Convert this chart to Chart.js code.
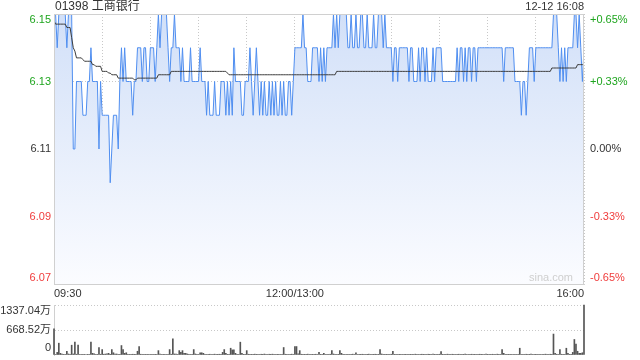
<!DOCTYPE html>
<html>
<head>
<meta charset="utf-8">
<script src="https://cdn.jsdelivr.net/npm/chart.js"></script>
<style>
  html, body { margin: 0; padding: 0; background: #fff; }
  #wrap { position: relative; width: 640px; height: 360px; overflow: hidden; }
  #price { position: absolute; left: 0; top: 0; }
  #vol { position: absolute; left: 0; top: 300px; }
</style>
</head>
<body>
<div id="wrap">
  <canvas id="price" width="640" height="300"></canvas>
  <canvas id="vol" width="640" height="60"></canvas>
</div>
<script>
// 01398 工商银行, 12-12 intraday, one point per minute (09:30 .. 16:00, lunch removed)
var stockTitle = '01398 工商银行';
var stampText = '12-12 16:08';
var prevClose = 6.11;

var timeLabels = { 0: '09:30', 150: '12:00/13:00', 330: '16:00' };
var priceTicks = [6.07, 6.09, 6.11, 6.13, 6.15];
var priceTickLabels = ['6.07', '6.09', '6.11', '6.13', '6.15'];
var pctTickLabels = ['-0.65%', '-0.33%', '0.00%', '+0.33%', '+0.65%'];
var volTicks = [0, 668.52, 1337.04];
var volTickLabels = ['0', '668.52万', '1337.04万'];

var lastPrice = [
  6.15,6.15,6.14,6.15,6.15,6.15,6.15,6.15,6.14,6.15,
  6.15,6.15,6.11,6.11,6.13,6.13,6.13,6.13,6.12,6.12,
  6.12,6.13,6.13,6.14,6.13,6.13,6.13,6.13,6.11,6.13,
  6.12,6.12,6.12,6.12,6.12,6.10,6.11,6.12,6.12,6.12,
  6.11,6.13,6.14,6.13,6.14,6.13,6.13,6.13,6.13,6.12,
  6.13,6.13,6.14,6.14,6.14,6.13,6.14,6.14,6.13,6.13,
  6.14,6.14,6.14,6.13,6.14,6.15,6.14,6.15,6.15,6.15,
  6.15,6.14,6.13,6.14,6.14,6.15,6.14,6.14,6.14,6.13,
  6.14,6.13,6.13,6.13,6.13,6.14,6.13,6.13,6.13,6.13,
  6.13,6.14,6.13,6.13,6.13,6.12,6.13,6.12,6.12,6.12,
  6.13,6.12,6.12,6.12,6.13,6.13,6.13,6.12,6.13,6.12,
  6.13,6.12,6.14,6.13,6.13,6.13,6.13,6.12,6.12,6.13,
  6.13,6.13,6.14,6.13,6.12,6.13,6.14,6.13,6.12,6.13,
  6.12,6.13,6.12,6.12,6.13,6.12,6.13,6.12,6.13,6.12,
  6.12,6.13,6.12,6.13,6.12,6.12,6.13,6.13,6.12,6.13,
  6.14,6.14,6.14,6.14,6.14,6.15,6.14,6.14,6.13,6.13,
  6.13,6.14,6.14,6.14,6.14,6.13,6.14,6.13,6.14,6.13,
  6.14,6.14,6.14,6.14,6.15,6.14,6.15,6.14,6.15,6.15,
  6.15,6.15,6.15,6.14,6.14,6.15,6.14,6.14,6.15,6.14,
  6.14,6.15,6.15,6.14,6.14,6.15,6.14,6.14,6.14,6.15,
  6.14,6.14,6.15,6.15,6.15,6.14,6.15,6.14,6.14,6.14,
  6.14,6.13,6.14,6.14,6.13,6.14,6.14,6.14,6.14,6.14,
  6.14,6.13,6.14,6.14,6.13,6.13,6.13,6.14,6.13,6.14,
  6.14,6.13,6.14,6.13,6.13,6.13,6.14,6.13,6.14,6.14,
  6.14,6.14,6.13,6.13,6.13,6.13,6.13,6.13,6.13,6.13,
  6.13,6.14,6.13,6.14,6.14,6.13,6.14,6.13,6.14,6.14,
  6.13,6.14,6.14,6.13,6.14,6.14,6.14,6.14,6.14,6.14,
  6.14,6.14,6.14,6.14,6.14,6.14,6.14,6.14,6.14,6.14,
  6.13,6.14,6.14,6.14,6.14,6.14,6.14,6.13,6.13,6.13,
  6.13,6.12,6.13,6.13,6.12,6.13,6.14,6.14,6.14,6.13,
  6.14,6.14,6.14,6.14,6.14,6.14,6.14,6.14,6.14,6.14,
  6.14,6.15,6.15,6.15,6.14,6.13,6.14,6.13,6.14,6.13,
  6.14,6.14,6.14,6.14,6.15,6.15,6.14,6.15,6.14,6.13,6.14
];

var avgPrice = [
  6.148,6.147,6.147,6.147,6.147,6.147,6.147,6.147,6.146,6.146,
  6.146,6.143,6.140,6.139,6.137,6.137,6.137,6.137,6.1365,6.136,
  6.136,6.136,6.136,6.136,6.135,6.135,6.1345,6.1345,6.1345,6.1345,
  6.133,6.133,6.133,6.133,6.1325,6.1325,6.132,6.132,6.132,6.132,
  6.131,6.131,6.131,6.131,6.131,6.131,6.131,6.131,6.131,6.131,
  6.1305,6.1305,6.131,6.131,6.131,6.131,6.131,6.131,6.131,6.131,
  6.131,6.131,6.131,6.131,6.131,6.132,6.132,6.132,6.132,6.132,
  6.132,6.132,6.132,6.133,6.133,6.133,6.133,6.133,6.133,6.133,
  6.133,6.133,6.133,6.133,6.133,6.133,6.133,6.133,6.133,6.133,
  6.133,6.133,6.133,6.133,6.133,6.133,6.133,6.133,6.133,6.133,
  6.133,6.133,6.133,6.133,6.133,6.133,6.133,6.133,6.1325,6.132,
  6.132,6.132,6.132,6.132,6.132,6.132,6.132,6.132,6.132,6.132,
  6.132,6.132,6.132,6.132,6.132,6.132,6.132,6.132,6.132,6.132,
  6.132,6.132,6.132,6.132,6.132,6.132,6.132,6.132,6.132,6.132,
  6.132,6.132,6.132,6.132,6.132,6.132,6.132,6.132,6.132,6.132,
  6.132,6.132,6.132,6.132,6.132,6.132,6.132,6.132,6.132,6.132,
  6.132,6.132,6.132,6.132,6.132,6.132,6.132,6.132,6.132,6.132,
  6.132,6.132,6.132,6.132,6.132,6.132,6.133,6.133,6.133,6.133,
  6.133,6.133,6.133,6.133,6.133,6.133,6.133,6.133,6.133,6.133,
  6.133,6.133,6.133,6.133,6.133,6.133,6.133,6.133,6.133,6.133,
  6.133,6.133,6.133,6.133,6.133,6.133,6.133,6.133,6.133,6.133,
  6.133,6.133,6.133,6.133,6.133,6.133,6.133,6.133,6.133,6.133,
  6.133,6.133,6.133,6.133,6.133,6.133,6.133,6.133,6.133,6.133,
  6.133,6.133,6.133,6.133,6.133,6.133,6.133,6.133,6.133,6.133,
  6.133,6.133,6.133,6.133,6.133,6.133,6.133,6.133,6.133,6.133,
  6.133,6.133,6.133,6.133,6.133,6.133,6.133,6.133,6.133,6.133,
  6.133,6.133,6.133,6.133,6.133,6.133,6.133,6.133,6.133,6.133,
  6.133,6.133,6.133,6.133,6.133,6.133,6.133,6.133,6.133,6.133,
  6.133,6.133,6.133,6.133,6.133,6.133,6.133,6.133,6.133,6.133,
  6.133,6.133,6.133,6.133,6.133,6.133,6.133,6.133,6.133,6.133,
  6.133,6.133,6.133,6.133,6.133,6.133,6.133,6.133,6.133,6.133,
  6.134,6.134,6.134,6.134,6.134,6.134,6.134,6.134,6.134,6.134,
  6.134,6.134,6.134,6.134,6.134,6.134,6.135,6.135,6.135,6.135,6.135
];

// volume, 万 shares
var volume = [
  700,12,70,316,45,25,10,15,100,27,
  18,262,27,343,20,262,15,12,20,10,
  14,18,12,343,45,30,15,10,200,20,
  145,20,25,30,45,18,145,60,27,27,
  12,15,253,145,45,60,15,10,12,20,
  8,15,100,226,20,15,12,10,18,12,
  15,10,12,18,14,117,27,12,10,15,
  12,18,145,20,434,27,27,15,117,70,
  117,45,45,27,12,15,10,145,27,12,
  15,60,60,45,18,12,15,20,14,18,
  22,15,18,20,15,70,145,45,18,12,
  181,136,136,45,15,12,343,45,18,15,
  117,20,12,18,15,22,18,12,15,20,
  18,25,15,12,20,18,22,15,12,18,
  15,12,18,200,20,15,12,18,22,15,
  226,226,30,117,20,15,18,12,22,15,
  12,18,15,20,14,70,18,12,45,15,
  12,15,20,117,27,15,12,18,117,45,
  18,15,12,20,15,18,22,15,55,12,
  15,18,20,12,15,18,22,15,12,18,
  20,15,18,145,27,15,12,18,15,12,
  20,100,18,15,12,18,20,15,12,18,
  15,12,18,20,15,22,18,15,12,20,
  18,15,12,20,18,15,22,18,15,12,
  20,90,18,15,12,22,18,15,20,12,
  15,18,20,12,15,18,22,15,12,18,
  20,15,18,12,15,20,18,12,15,22,
  18,15,12,20,18,15,22,18,15,145,
  45,15,12,18,20,15,12,18,15,20,
  181,15,18,12,20,15,18,22,15,12,
  18,15,20,12,15,18,22,15,12,20,
  18,560,45,20,15,145,20,18,15,181,
  45,18,20,70,415,289,100,45,45,60,1337.04
];

var minutes = lastPrice.map(function (v, i) { return i; });

var FONT = '"Liberation Sans", Arial, "Noto Sans CJK SC", sans-serif';
var GRID = '#c8c8c8';
var UP = '#1ea51e', DOWN = '#f03c3c', FLAT = '#333333';

function clamp(v, lo, hi) { return Math.max(lo, Math.min(hi, v)); }

var priceText = {
    id: 'priceText',
    afterDraw: function (chart) {
        var ctx = chart.ctx, a = chart.chartArea, ys = chart.scales.y;
        ctx.save();
        ctx.strokeStyle = '#d0d0d0';
        ctx.lineWidth = 1;
        ctx.strokeRect(Math.round(a.left) + 0.5, Math.round(a.top) + 0.5,
            Math.round(a.right - a.left) - 1, Math.round(a.bottom - a.top));
        ctx.font = '11px ' + FONT;
        ctx.textBaseline = 'middle';
        for (var k = 0; k < priceTicks.length; k++) {
            var v = priceTicks[k];
            var y = clamp(ys.getPixelForValue(v), a.top + 6, a.bottom - 6);
            ctx.fillStyle = v > prevClose ? UP : (v < prevClose ? DOWN : FLAT);
            ctx.textAlign = 'right';
            ctx.fillText(priceTickLabels[k], a.left - 3, y);
            ctx.textAlign = 'left';
            ctx.fillText(pctTickLabels[k], a.right + 6, y);
        }
        ctx.fillStyle = '#333';
        ctx.font = '12px ' + FONT;
        ctx.textAlign = 'left';
        ctx.fillText(stockTitle, a.left + 1, 7);
        ctx.font = '11px ' + FONT;
        ctx.textAlign = 'right';
        ctx.fillText(stampText, a.right, 7);
        ctx.fillStyle = '#cfcfcf';
        ctx.fillText('sina.com', a.right - 11, a.bottom - 6);
        ctx.restore();
    }
};

new Chart(document.getElementById('price').getContext('2d'), {
    type: 'line',
    data: {
        labels: minutes,
        datasets: [{
            data: avgPrice,
            borderColor: '#3c3c3c',
            borderWidth: 1,
            pointRadius: 0,
            fill: false
        }, {
            data: lastPrice,
            borderColor: '#4f8ef0',
            borderWidth: 1,
            pointRadius: 0,
            fill: 'start',
            backgroundColor: function (c) {
                var a = c.chart.chartArea;
                if (!a) return 'rgba(0,0,0,0)';
                var g = c.chart.ctx.createLinearGradient(0, a.top, 0, a.bottom);
                g.addColorStop(0, '#d2e0f8');
                g.addColorStop(1, '#fbfcff');
                return g;
            }
        }]
    },
    options: {
        responsive: false,
        animation: false,
        layout: { padding: { top: 14, right: 56, left: 0, bottom: 0 } },
        plugins: { legend: { display: false }, tooltip: { enabled: false } },
        scales: {
            x: {
                type: 'linear', min: 0, max: 330,
                afterFit: function (s) { s.height = 16; },
                ticks: {
                    stepSize: 30, autoSkip: false, maxRotation: 0, align: 'inner', padding: 3,
                    color: '#333', font: { size: 11, family: FONT },
                    callback: function (v) { return timeLabels[v] || ''; }
                },
                grid: { color: GRID, drawTicks: false },
                border: { color: '#d0d0d0', dash: [1, 2] }
            },
            y: {
                min: 6.07, max: 6.15,
                afterFit: function (s) { s.width = 54; },
                afterBuildTicks: function (s) { s.ticks = priceTicks.map(function (v) { return { value: v }; }); },
                ticks: { display: false },
                grid: { color: GRID, drawTicks: false },
                border: { color: '#d0d0d0', dash: [1, 2] }
            }
        }
    },
    plugins: [priceText]
});

var volText = {
    id: 'volText',
    afterDraw: function (chart) {
        var ctx = chart.ctx, a = chart.chartArea, ys = chart.scales.y;
        ctx.save();
        ctx.font = '11px ' + FONT;
        ctx.fillStyle = '#333';
        ctx.textAlign = 'right';
        ctx.textBaseline = 'middle';
        for (var k = 0; k < volTicks.length; k++) {
            var y = clamp(ys.getPixelForValue(volTicks[k]), a.top + 6, a.bottom - 7);
            ctx.fillText(volTickLabels[k], a.left - 3, y);
        }
        ctx.restore();
    }
};

new Chart(document.getElementById('vol').getContext('2d'), {
    type: 'bar',
    data: {
        labels: minutes,
        datasets: [{
            data: volume,
            backgroundColor: '#555555',
            barThickness: 1,
            clip: 2
        }]
    },
    options: {
        responsive: false,
        animation: false,
        layout: { padding: { top: 5, right: 56, left: 0, bottom: 5 } },
        plugins: { legend: { display: false }, tooltip: { enabled: false } },
        scales: {
            x: { type: 'linear', min: 0, max: 330, offset: false, display: false },
            y: {
                min: 0, max: 1337.04,
                afterFit: function (s) { s.width = 54; },
                afterBuildTicks: function (s) { s.ticks = volTicks.map(function (v) { return { value: v }; }); },
                ticks: { display: false },
                grid: {
                    drawTicks: false,
                    color: function (c) { return c.tick && c.tick.value > 0 ? GRID : 'rgba(0,0,0,0)'; }
                },
                border: { color: '#d0d0d0', dash: [1, 2] }
            }
        }
    },
    plugins: [volText]
});
</script>
</body>
</html>
